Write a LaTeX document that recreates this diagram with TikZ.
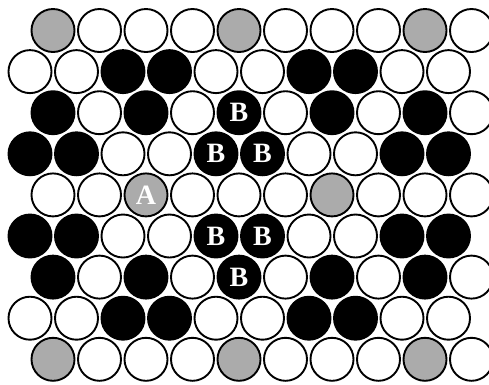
\documentclass[tikz,border=0pt]{standalone}
\usepackage{fontspec}
\setmainfont{Liberation Serif}
\usetikzlibrary{positioning}

\begin{document}
\begin{tikzpicture}[
        x=1pt, y=-1pt,
        disc/.style={circle, draw=black, line width=1.9pt, minimum size=43pt, inner sep=0pt},
        dw/.style={disc, fill=white},
        dk/.style={disc, fill=black},
        dg/.style={disc, fill=black!33},
        letter/.style={text=white, font=\fontsize{28}{28}\selectfont\bfseries, inner sep=0pt}
    ]
        % Frame
        \useasboundingbox (0,0) rectangle (489,384);
        \clip (0,0) rectangle (489,384);

        % Rows of discs (odd rows start further right)
        \foreach \r/\cells in {
            1/{dg,dw,dw,dw,dg,dw,dw,dw,dg,dw},
            2/{dw,dw,dk,dk,dw,dw,dk,dk,dw,dw},
            3/{dk,dw,dk,dw,dk,dw,dk,dw,dk,dw},
            4/{dk,dk,dw,dw,dk,dk,dw,dw,dk,dk},
            5/{dw,dw,dg,dw,dw,dw,dg,dw,dw,dw},
            6/{dk,dk,dw,dw,dk,dk,dw,dw,dk,dk},
            7/{dk,dw,dk,dw,dk,dw,dk,dw,dk,dw},
            8/{dw,dw,dk,dk,dw,dw,dk,dk,dw,dw},
            9/{dg,dw,dw,dw,dg,dw,dw,dw,dg,dw}} {
            \pgfmathsetmacro{\xs}{isodd(\r) ? 53 : 30}
            \foreach \c [count=\i] in \cells {
                \node[\c] (d-\r-\i) at ({\xs+(\i-1)*46.5}, {30.5+(\r-1)*41.1}) {};
            }
        }

        % Labels
        \node[letter] (b1) at (d-3-5) {B};
        \node[letter] (b2) at (d-4-5) {B};
        \node[letter] (b3) at (d-4-6) {B};
        \node[letter] (b4) at (d-6-5) {B};
        \node[letter] (b5) at (d-6-6) {B};
        \node[letter] (b6) at (d-7-5) {B};
        \node[letter] (a1) at (d-5-3) {A};
    \end{tikzpicture}
\end{document}
